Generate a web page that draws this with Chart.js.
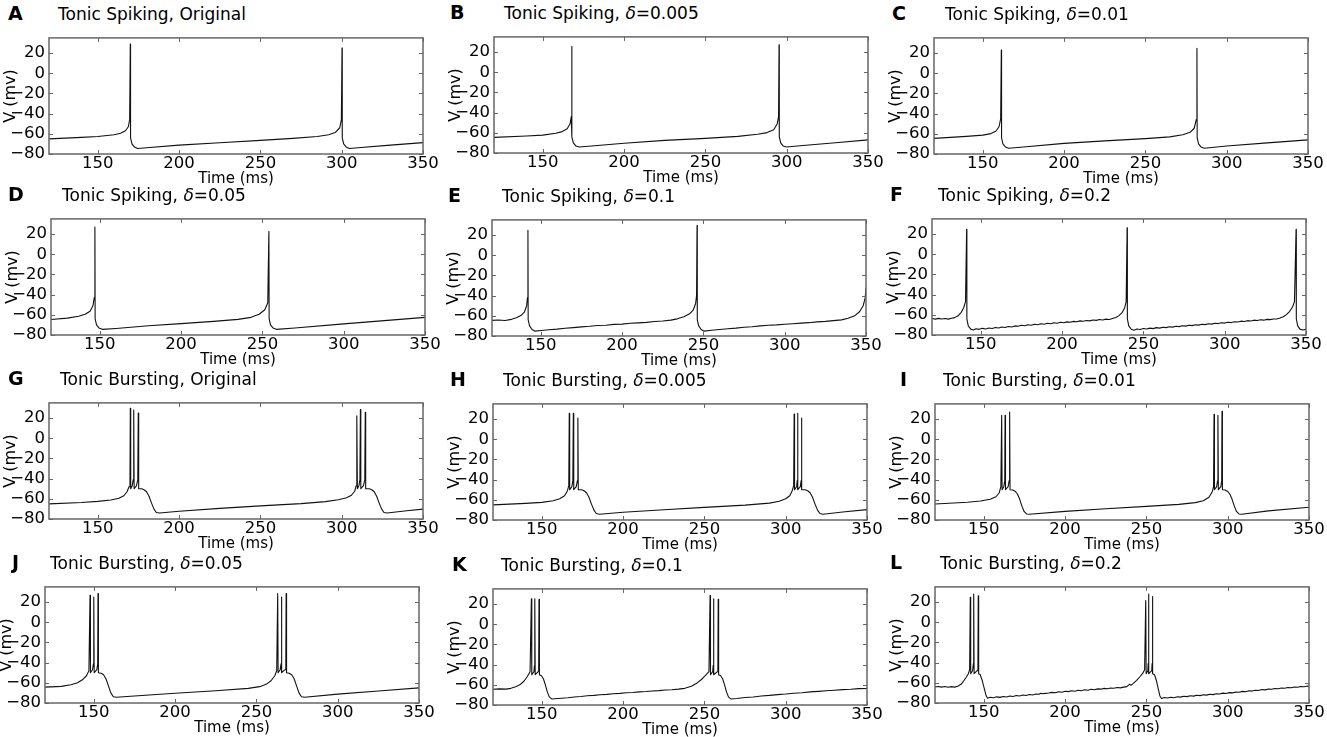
<!DOCTYPE html>
<html>
<head>
<meta charset="utf-8">
<script src="https://cdn.jsdelivr.net/npm/chart.js@4.4.1/dist/chart.umd.min.js"></script>
<style>
  body { margin: 0; background: #fff; }
  #fig { position: relative; width: 1327px; height: 737px; overflow: hidden; font-family: "DejaVu Sans", sans-serif; }
  canvas { position: absolute; }
  .letter { position: absolute; font-weight: bold; font-size: 19px; line-height: 19px; color: #000; }
  .title { position: absolute; font-size: 17px; line-height: 17px; color: #000; white-space: nowrap; }
</style>
</head>
<body>
<div id="fig"></div>
<script>
// Axis ranges and ticks
const xTicks = [150, 200, 250, 300, 350];
const yTicks = [-80, -60, -40, -20, 0, 20];
const xRange = [120, 350];
const yRange = [-80, 35];

const modelNames = ['Tonic Spiking', 'Tonic Bursting'];
const deltaLabels = ['Original', '0.005', '0.01', '0.05', '0.1', '0.2'];
const panelLetters = ['A', 'B', 'C', 'D', 'E', 'F', 'G', 'H', 'I', 'J', 'K', 'L'];

// Voltage traces, [time (ms), V (mV)]
const spikingOrig = [[120,-65],[140,-63.5],[150,-62.7],[160,-61],[164,-59.5],[167,-57],[168.8,-53],[169.6,-46],[170,29],[170.15,-64],[171,-70],[172.5,-73],[174.5,-74.5],[180,-73.8],[200,-71.2],[225,-68.8],[250,-66.5],[270,-64.5],[285,-62.7],[292,-61],[296,-58.8],[298.8,-54],[299.8,-46],[300.2,25],[300.35,-64],[301.2,-70],[302.7,-73],[304.7,-74.5],[310,-73.8],[330,-71.2],[350,-68.7]];

const spiking005 = [[120,-64.5],[140,-63.2],[150,-62.3],[158,-60.5],[162,-58.8],[165,-56],[166.8,-51],[167.5,-44],[167.8,25.6],[167.95,-64],[168.8,-70],[170.3,-73],[172.3,-74],[180,-73],[200,-70.3],[225,-67.5],[250,-65.5],[270,-63.5],[282,-61.5],[288,-59.8],[292,-57],[294.2,-51],[295,-44],[295.3,27.2],[295.45,-64],[296.3,-70],[297.8,-73],[299.8,-74],[310,-72.5],[330,-69.8],[350,-67]];

const spiking01 = [[120,-64.5],[140,-62.5],[150,-61.3],[155,-59.8],[158,-57.5],[160,-53],[161,-45],[161.4,23],[161.55,-64],[162.4,-70],[163.9,-73],[165.9,-74.3],[175,-73],[200,-69.5],[225,-67],[250,-64.8],[265,-63],[273,-61],[277.5,-58.5],[280,-54.5],[281.3,-46],[281.7,24.7],[281.85,-64],[282.7,-70],[284.2,-73],[286.2,-74.3],[300,-72],[325,-69],[350,-66]];

const spiking05 = [[120,-64.6],[130,-63.3],[137,-61.5],[141,-59.5],[144,-56.5],[145.8,-51],[146.6,-43],[147,27],[147.15,-64],[148,-70],[149.5,-73],[151.5,-74.4],[160,-73.5],[180,-70.8],[200,-68.7],[220,-66.5],[235,-64.5],[243,-62.5],[248,-59.5],[251.5,-55],[253.3,-48],[254,22.6],[254.15,-64],[255,-70],[256.5,-73],[258.5,-74.4],[270,-73],[300,-69],[325,-65.8],[350,-62.5]];

const spiking1 = [[120,-64.5],[124,-64.2],[128,-64.6],[132,-63.5],[135,-62],[138,-59.5],[140,-56],[141.3,-50],[141.8,-42],[142.1,24.7],[142.25,-64],[143.1,-70],[144.6,-73.5],[146.5,-75.2],[150,-74.5],[155,-73.8],[160,-73.2],[165,-72.4],[170,-71.7],[175,-71],[180,-70.4],[185,-69.6],[190,-69.3],[195,-68.5],[200,-68.2],[205,-67.4],[210,-67],[215,-66.5],[220,-65.6],[225,-65.2],[230,-64.3],[234,-63],[238,-61],[241.5,-58],[243.8,-54],[245.2,-48],[245.8,-40],[246.1,29.4],[246.25,-64],[247.1,-70],[248.6,-73.5],[250.5,-75.2],[255,-74.3],[260,-73.6],[265,-72.8],[270,-72.2],[275,-71.3],[280,-70.8],[285,-70],[290,-69.4],[295,-69],[300,-68.3],[305,-67.8],[310,-67.2],[315,-66.8],[320,-66],[325,-65.5],[330,-64.8],[335,-64],[339,-62.5],[343,-60],[346,-56],[348.3,-50],[349.5,-42],[350,-32]];

const spiking2 = [[120,-63.6],[122,-64.3],[124,-63.5],[126,-64.2],[128,-63.6],[130,-64.3],[132,-63.4],[134,-62.8],[136,-61],[138,-57.5],[139.5,-53],[140.6,-47],[141.3,24.7],[141.45,-64],[142.3,-71],[143.8,-74.2],[145.5,-75],
  [147,-73.8],[149,-74.4],[151,-73.4],[153,-74],[155,-73],[157,-73.5],[159,-72.6],[161,-73.1],[163,-72.1],[165,-72.6],[167,-71.6],[169,-72],[171,-71],[173,-71.4],[175,-70.4],[177,-70.9],[179,-69.9],[181,-70.3],[183,-69.4],[185,-69.8],[187,-68.9],[189,-69.3],[191,-68.4],[193,-68.8],[195,-67.9],[197,-68.3],[199,-67.4],[201,-67.9],[203,-67],[205,-67.4],[207,-66.5],[209,-66.9],[211,-66],[213,-66.4],[215,-65.6],[217,-66],[219,-65.1],[221,-65.5],[223,-64.7],[225,-65.1],[227,-64.3],[229,-64.6],[231,-63.6],[233,-62.6],[235,-60.8],[237,-57.5],[238.5,-53],[239.4,-47],[240,26.3],[240.15,-64],[241,-71],[242.5,-74.2],[244.2,-75.2],
  [246,-74],[248,-74.6],[250,-73.6],[252,-74.1],[254,-73.2],[256,-73.7],[258,-72.7],[260,-73.2],[262,-72.3],[264,-72.7],[266,-71.8],[268,-72.2],[270,-71.3],[272,-71.7],[274,-70.8],[276,-71.2],[278,-70.3],[280,-70.7],[282,-69.8],[284,-70.2],[286,-69.3],[288,-69.7],[290,-68.8],[292,-69.2],[294,-68.3],[296,-68.7],[298,-67.8],[300,-68.2],[302,-67.3],[304,-67.7],[306,-66.8],[308,-67.2],[310,-66.3],[312,-66.7],[314,-65.8],[316,-66.2],[318,-65.3],[320,-65.7],[322,-64.9],[324,-65.3],[326,-64.5],[328,-64.8],[330,-64.1],[332,-64.2],[334,-63.2],[336,-62],[338,-59.8],[340,-56.5],[341.8,-52],[342.9,-47],[343.9,24.7],[344.05,-64],[344.9,-71],[346.3,-74.2],[348,-75],[350,-74.4]];

const burstingOrig = [[120,-65],[140,-63.6],[150,-62.5],[158,-61.2],[163,-59.5],[166,-57],[168,-53],[169.2,-48],[169.8,-42],[170,29.7],[170.25,-50],[171.2,-47],[171.8,-41],[172.1,28],[172.35,-50],[173.8,-47],[174.6,-41],[174.9,25],[175.15,-50],[177,-50],[178.5,-51],[180,-53],[181.5,-57.5],[183,-64],[184.5,-70],[186,-73.5],[188,-74],[200,-72.3],[225,-69.5],[250,-67],[275,-64.8],[290,-62.8],[298,-61],[303,-59],[306,-56.5],[308,-52.5],[308.9,-47],[309.2,-42],[309.4,22.3],[309.65,-50],[310.6,-47],[311.2,-41],[311.5,28.4],[311.75,-50],[313.4,-47],[314.2,-41],[314.5,25.7],[314.75,-50],[317,-50],[318.5,-51],[320,-53],[321.5,-57.5],[323,-64],[324.5,-70],[326,-73.5],[328,-74],[340,-71.8],[350,-70.2]];

const bursting005 = [[120,-65],[140,-63.5],[150,-62.5],[157,-61],[161,-59],[164,-56],[165.8,-51],[166.6,-46],[166.9,25.6],[167.15,-50],[168.5,-47],[169.1,-41],[169.4,25.6],[169.65,-50],[171.2,-47],[171.9,-41],[172.2,21],[172.45,-50],[174.5,-50],[176,-51],[177.5,-53],[179,-57.5],[180.5,-64],[182,-70],[183.5,-73.5],[185.5,-74.3],[200,-72.3],[225,-69.8],[250,-67.5],[275,-65.3],[290,-63.3],[296,-61.5],[300,-59],[302.5,-56],[304,-51],[304.9,-46],[305.2,25],[305.45,-50],[306.7,-47],[307.1,-41],[307.3,25.6],[307.55,-50],[309,-47],[309.5,-41],[309.7,21],[309.95,-50],[312,-50],[313.5,-51],[315,-53],[316.5,-57.5],[318,-64],[319.5,-70],[321,-73.5],[323,-74.3],[335,-72],[350,-69.7]];

const bursting01 = [[120,-64.2],[140,-62.4],[148,-61.2],[154,-59.5],[157.5,-57],[159.5,-53],[160.5,-47],[161,23.7],[161.25,-50],[162.3,-47],[162.9,-41],[163.1,23.7],[163.35,-50],[165,-47],[165.6,-41],[165.9,27],[166.15,-50],[167.8,-50.3],[169.2,-51.5],[170.6,-54],[172,-59],[173.4,-66],[174.8,-71.5],[176.3,-74],[178,-74.3],[200,-71.5],[225,-68.8],[250,-66.5],[270,-64.5],[280,-62.8],[285,-61],[288.5,-57.5],[290.5,-52],[291.3,-47],[291.6,24.6],[291.85,-50],[293.2,-47],[293.8,-41],[294,23.7],[294.25,-50],[295.8,-47],[296.3,-41],[296.5,27.7],[296.75,-50],[298.4,-50.3],[299.8,-51.5],[301.2,-54],[302.6,-59],[304,-66],[305.4,-71.5],[306.9,-74],[308.6,-74.3],[325,-71],[350,-67.3]];

const bursting05 = [[120,-64.3],[130,-63.5],[136,-62],[140,-60],[143,-57],[145.5,-53],[147,-48],[147.7,26.7],[147.95,-50],[149.2,-47],[149.8,-41],[150,25],[150.25,-50],[151.9,-47],[152.4,-41],[152.6,28.3],[152.85,-50],[154.5,-50.5],[156,-52],[157.5,-56],[159,-63],[160.5,-70],[162,-73.8],[164,-74.3],[175,-73],[200,-70.3],[225,-67.8],[245,-65.5],[252,-63.8],[256,-61.5],[259,-58],[261.3,-53],[262.5,-48],[263.1,28.3],[263.35,-50],[264.6,-47],[265.2,-41],[265.4,25],[265.65,-50],[267.6,-47],[268.1,-41],[268.3,28.3],[268.55,-50],[270.2,-50.5],[271.7,-52],[273.2,-56],[274.7,-63],[276.2,-70],[277.7,-73.8],[279.7,-74.3],[300,-71.2],[325,-68.1],[350,-65]];

const bursting1 = [[120,-64.4],[124,-64],[128,-64.3],[131,-63.5],[134,-62],[136.5,-60],[139,-56.5],[141,-52],[142.8,-47],[143.6,25.3],[143.85,-50],[145.2,-47],[145.5,-41],[145.7,25.3],[145.95,-50],[147.8,-47],[148.1,-41],[148.3,24.7],[148.55,-50],[149.8,-51],[151,-54],[152.2,-60],[153.4,-67],[154.6,-72],[156,-74],[158,-73.8],[162,-73.3],[166,-72.8],[170,-72.1],[174,-71.6],[178,-70.9],[182,-70.5],[186,-69.8],[190,-69.5],[194,-68.8],[198,-68.5],[202,-67.9],[206,-67.6],[210,-67],[214,-66.7],[218,-66.1],[222,-65.8],[226,-65.2],[230,-64.9],[234,-64.3],[238,-63.5],[242,-61.5],[245,-58.8],[248,-55],[250.5,-51],[252.8,-47],[253.5,28.4],[253.75,-50],[255.1,-47],[255.4,-41],[255.6,25.3],[255.85,-50],[258,-47],[258.3,-41],[258.5,24.7],[258.75,-50],[260,-51],[261.2,-54],[262.4,-60],[263.6,-67],[264.8,-72],[266.2,-74],[270,-73.5],[275,-72.6],[280,-72],[285,-71.1],[290,-70.5],[295,-69.7],[300,-69.1],[305,-68.3],[310,-67.8],[315,-67],[320,-66.5],[325,-65.9],[330,-65.4],[335,-64.8],[340,-64.4],[345,-63.8],[350,-63.7]];

const bursting2 = [[120,-64.2],[122,-63.6],[124,-64.3],[126,-63.7],[128,-64.4],[130,-63.8],[132,-64.3],[134,-63.4],[136,-61.5],[137.5,-58.5],[139,-55],[140.5,-51],[141.3,-47],[141.7,24.7],[141.95,-51],[143.1,-48],[143.6,-41],[143.8,27.9],[144.05,-51],[145.9,-48],[146.4,-41],[146.6,26.3],[146.85,-51],[147.8,-52],[149,-57.5],[150.2,-65],[151.3,-72],[152.3,-75.3],
  [154,-74.3],[156,-74.8],[158,-73.9],[160,-74.4],[162,-73.5],[164,-74],[166,-73.1],[168,-73.5],[170,-72.6],[172,-73],[174,-72.1],[176,-72.5],[178,-71.6],[180,-72],[182,-71.1],[184,-71.4],[185,-70.3],[186,-70.9],[188,-70.5],[190,-70.1],[192,-69.5],[194,-69.8],[196,-68.9],[198,-69.3],[200,-68.4],[202,-68.7],[204,-67.9],[206,-68.3],[208,-67.4],[210,-67.8],[212,-66.9],[214,-67.3],[216,-66.4],[218,-66.8],[220,-66],[222,-66.3],[224,-65.5],[226,-65.9],[228,-65.1],[230,-65.4],[232,-64.7],[234,-65],[236,-64.3],[238,-63.8],[239.5,-61.5],[240.5,-62.5],[242,-60.5],[244,-57.5],[246,-54],[247.8,-50.5],[248.9,-47],[249.6,21.6],[249.85,-51],[250.9,-48],[251.1,-41],[251.3,27.9],[251.55,-51],[253.3,-48],[253.5,-41],[253.7,25.4],[253.95,-51],[255,-52],[256.2,-58],[257.3,-66],[258.3,-73],[259.3,-75.6],
  [261,-74.6],[263,-75.1],[265,-74.3],[267,-74.8],[269,-73.8],[271,-74.2],[273,-73.3],[275,-73.7],[277,-72.8],[279,-73.2],[281,-72.3],[283,-72.7],[285,-71.8],[287,-72.2],[289,-71.3],[291,-71.7],[293,-70.8],[295,-71.1],[297,-70.2],[299,-70.6],[301,-69.7],[303,-70],[305,-69.1],[307,-69.4],[309,-68.5],[311,-68.8],[313,-67.9],[315,-68.2],[317,-67.3],[319,-67.6],[321,-66.7],[323,-67],[325,-66.1],[327,-66.4],[329,-65.6],[331,-65.9],[333,-65.1],[335,-65.4],[337,-64.6],[339,-64.9],[341,-64.1],[343,-64.4],[345,-63.6],[347,-63.9],[349,-63.2],[350,-63.5]];

const traces = [spikingOrig, spiking005, spiking01, spiking05, spiking1, spiking2,
                burstingOrig, bursting005, bursting01, bursting05, bursting1, bursting2];

// layout of the 12 panels (plot box position, title offsets)
const boxW = 374, boxH = 122;
const boxLeft = [49, 494, 934, 51, 492, 932, 49, 493, 935, 45, 493, 935];
const boxTop  = [32, 31, 32, 213, 214, 213, 397, 398, 398, 581, 583, 581];
const letterX = [8, 450, 892, 8, 448, 890, 8, 450, 900, 12, 452, 890];
const titleDx = [9, 10, 11, 11, 10, 6, 11, 10, 8, 5, 8, 5];

const frameColor = '#666';
const padL = 49, padT = 8, padR = 18, axisH = 38;
const tickFont = { family: 'DejaVu Sans', size: 16.5 };

// inward ticks on all four sides + box frame, like matplotlib
const frameTicks = {
    id: 'frameTicks',
    afterDraw(chart) {
        const { ctx, chartArea: a, scales: { x, y } } = chart;
        ctx.save();
        ctx.strokeStyle = frameColor;
        ctx.lineWidth = 1;
        ctx.beginPath();
        x.ticks.forEach(t => {
            const px = Math.round(x.getPixelForValue(t.value)) + 0.5;
            ctx.moveTo(px, a.bottom); ctx.lineTo(px, a.bottom - 4);
            ctx.moveTo(px, a.top); ctx.lineTo(px, a.top + 4);
        });
        y.ticks.forEach(t => {
            const py = Math.round(y.getPixelForValue(t.value)) + 0.5;
            ctx.moveTo(a.left, py); ctx.lineTo(a.left + 4, py);
            ctx.moveTo(a.right, py); ctx.lineTo(a.right - 4, py);
        });
        ctx.stroke();
        ctx.lineWidth = 1.5;
        ctx.strokeRect(a.left, a.top, a.right - a.left, a.bottom - a.top);
        ctx.restore();
    }
};

// matplotlib style minus sign
const fmtTick = v => (v < 0 ? '\u2212' + Math.abs(v) : String(v));

const fig = document.getElementById('fig');

traces.forEach((trace, i) => {
    const model = modelNames[i < 6 ? 0 : 1];
    const delta = deltaLabels[i % 6];

    // panel letter and title
    const baseline = boxTop[i] - 12;
    const letter = document.createElement('div');
    letter.className = 'letter';
    letter.textContent = panelLetters[i];
    letter.style.left = letterX[i] + 'px';
    letter.style.top = (baseline - 16) + 'px';
    fig.appendChild(letter);

    const title = document.createElement('div');
    title.className = 'title';
    if (delta === 'Original') {
        title.textContent = model + ', Original';
    } else {
        title.innerHTML = model + ', <i>&delta;</i>=' + delta;
    }
    title.style.left = (boxLeft[i] + titleDx[i]) + 'px';
    title.style.top = (baseline - 14.4) + 'px';
    fig.appendChild(title);

    // chart canvas
    const canvas = document.createElement('canvas');
    canvas.width = padL + boxW + padR;
    canvas.height = padT + boxH + axisH;
    canvas.style.left = (boxLeft[i] - padL) + 'px';
    canvas.style.top = (boxTop[i] - padT) + 'px';
    fig.appendChild(canvas);

    new Chart(canvas, {
        type: 'line',
        data: {
            datasets: [{
                data: trace,
                borderColor: '#111',
                borderWidth: 1.1,
                borderJoinStyle: 'round',
                pointRadius: 0,
                tension: 0,
                fill: false
            }]
        },
        options: {
            responsive: false,
            animation: false,
            devicePixelRatio: 1,
            layout: { padding: { top: padT, right: padR, left: 0, bottom: 0 } },
            plugins: { legend: { display: false }, tooltip: { enabled: false } },
            scales: {
                x: {
                    type: 'linear',
                    min: xRange[0],
                    max: xRange[1],
                    afterBuildTicks: s => { s.ticks = xTicks.map(v => ({ value: v })); },
                    afterFit: s => { s.height = axisH; },
                    grid: { display: false, drawTicks: false },
                    border: { display: false },
                    ticks: { color: '#000', padding: 0, maxRotation: 0, autoSkip: false,
                             callback: fmtTick, font: tickFont },
                    title: { display: true, text: 'Time (ms)', color: '#000',
                             padding: { top: 0, bottom: 4 },
                             font: { family: 'DejaVu Sans', size: 15 } }
                },
                y: {
                    min: yRange[0],
                    max: yRange[1],
                    afterBuildTicks: s => { s.ticks = yTicks.map(v => ({ value: v })); },
                    afterFit: s => { s.width = padL; },
                    grid: { display: false, drawTicks: false },
                    border: { display: false },
                    ticks: { color: '#000', padding: 4, autoSkip: false,
                             callback: fmtTick, font: tickFont },
                    title: { display: true, text: 'V (mv)', color: '#000',
                             padding: { top: 1, bottom: 0 },
                             font: { family: 'DejaVu Sans', size: 16 } }
                }
            }
        },
        plugins: [frameTicks]
    });
});
</script>
</body>
</html>
